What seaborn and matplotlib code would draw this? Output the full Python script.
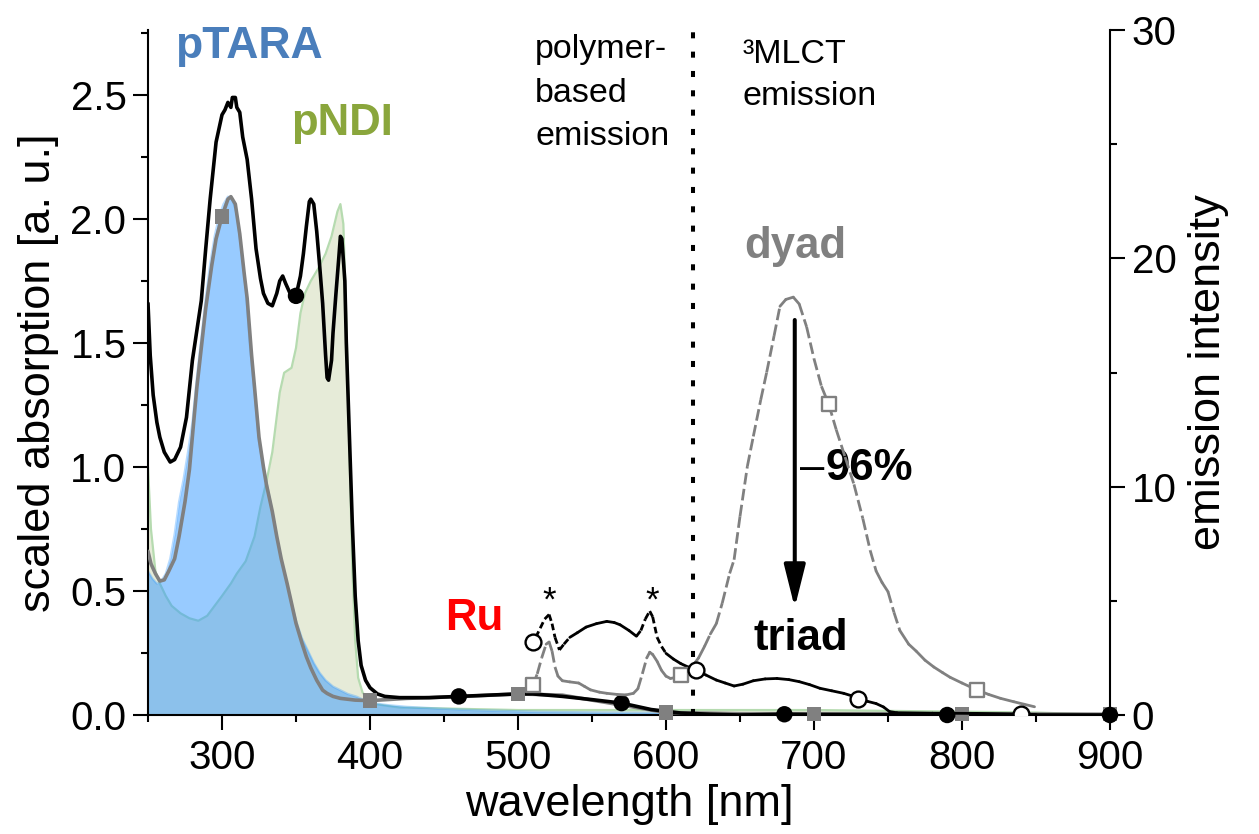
import numpy as np
import matplotlib
matplotlib.use("Agg")
import matplotlib.pyplot as plt
from matplotlib.collections import LineCollection
from matplotlib.ticker import MultipleLocator
import seaborn as sns

# ---------------- absorption spectra (left axis) ----------------
ptara_nm = [250, 253, 256, 259, 262, 265, 268, 271, 274, 277, 280, 283, 286, 289, 292, 295,
            298, 301, 304, 307, 310, 313, 316, 319, 322, 325, 328, 331, 334, 337, 340, 344,
            347, 350, 354, 358, 362, 366, 370, 375, 380, 385, 391, 396, 402, 412, 425, 450,
            470, 515, 560, 620, 700, 800, 900]
ptara_abs = [0.58, 0.55, 0.53, 0.54, 0.57, 0.63, 0.73, 0.86, 0.95, 1.06, 1.18, 1.36, 1.52, 1.68,
             1.82, 1.93, 2.01, 2.06, 2.09, 2.08, 2.02, 1.88, 1.72, 1.48, 1.30, 1.10, 1.00, 0.91,
             0.82, 0.72, 0.63, 0.53, 0.45, 0.38, 0.31, 0.26, 0.21, 0.17, 0.14, 0.115, 0.10,
             0.085, 0.074, 0.06, 0.048, 0.04, 0.033, 0.025, 0.02, 0.013, 0.01, 0.008, 0.006,
             0.004, 0.003]

pndi_nm = [250, 252, 255, 258, 262, 266, 272, 278, 284, 290, 295, 300, 306, 310, 316, 322,
           326, 330, 334, 339, 342, 347, 350, 353, 356, 360, 365, 370, 374, 378, 380, 382,
           384, 386, 388, 390, 392, 395, 398, 402, 420, 500, 700, 850, 900]
pndi_abs = [1.00, 0.75, 0.58, 0.53, 0.48, 0.44, 0.41, 0.39, 0.38, 0.40, 0.44, 0.48, 0.53, 0.57,
            0.62, 0.72, 0.84, 0.94, 1.06, 1.30, 1.38, 1.40, 1.48, 1.62, 1.70, 1.75, 1.80, 1.86,
            1.93, 2.03, 2.06, 1.98, 1.60, 1.10, 0.60, 0.30, 0.15, 0.09, 0.07, 0.045, 0.03,
            0.02, 0.02, 0.01, 0.0]

dyad_abs_nm = [250, 252, 255, 258, 261, 264, 268, 271, 275, 278, 281, 283, 286, 289, 293, 296,
               300, 304, 306, 309, 312, 315, 317, 320, 322, 325, 328, 330, 334, 337, 340, 344,
               347, 350, 354, 357, 360, 364, 368, 371, 375, 380, 390, 400, 425, 460, 500, 530,
               560, 580, 600, 650, 700, 800, 900]
dyad_abs = [0.66, 0.61, 0.57, 0.54, 0.545, 0.58, 0.63, 0.72, 0.86, 0.99, 1.19, 1.32, 1.48, 1.64,
            1.81, 1.92, 2.01, 2.08, 2.09, 2.06, 1.94, 1.78, 1.68, 1.45, 1.32, 1.12, 1.00, 0.93,
            0.82, 0.72, 0.63, 0.53, 0.45, 0.37, 0.29, 0.235, 0.19, 0.14, 0.10, 0.087, 0.075,
            0.067, 0.06, 0.058, 0.067, 0.074, 0.085, 0.08, 0.05, 0.03, 0.01, 0.005, 0.005,
            0.005, 0.003]

triad_abs_nm = [250, 251.5, 253.5, 256, 258, 261, 265, 268, 272, 276, 280, 283, 286, 289, 292,
                296, 300, 302, 304, 306, 307, 309, 310, 312, 314, 317, 320, 323, 326, 328, 331,
                334, 337, 339, 341, 343, 346, 348, 350, 353, 355, 357, 359, 360, 362, 364, 366,
                368, 370, 371, 372, 374, 375, 377, 379, 380, 381, 383, 384, 386, 388, 390, 392,
                394, 397, 400, 405, 410, 420, 440, 460, 480, 500, 510, 530, 550, 570, 590, 610,
                630, 650, 680, 700, 790, 900]
triad_abs = [1.66, 1.45, 1.29, 1.18, 1.12, 1.06, 1.02, 1.03, 1.08, 1.20, 1.43, 1.55, 1.67, 1.88,
             2.08, 2.31, 2.42, 2.44, 2.47, 2.45, 2.49, 2.49, 2.45, 2.43, 2.33, 2.24, 2.08, 1.88,
             1.76, 1.70, 1.66, 1.65, 1.70, 1.75, 1.77, 1.74, 1.70, 1.68, 1.69, 1.77, 1.86, 1.97,
             2.07, 2.08, 2.06, 1.95, 1.81, 1.66, 1.45, 1.36, 1.35, 1.43, 1.54, 1.70, 1.85, 1.93,
             1.92, 1.75, 1.50, 1.14, 0.78, 0.48, 0.30, 0.20, 0.14, 0.11, 0.085, 0.075, 0.07,
             0.07, 0.075, 0.08, 0.085, 0.085, 0.075, 0.062, 0.048, 0.022, 0.008, 0.003, 0.0,
             0.003, 0.002, 0.0, 0.0]

# ---------------- emission spectra (right axis) ----------------
dyad_em_nm = [510, 513, 516, 519, 521, 523, 525, 527, 530, 535, 541, 545, 549, 555, 560, 567,
              573, 578, 581, 584, 587, 589, 591, 594, 597, 600, 603, 607, 610, 614, 618, 622,
              626, 630, 634, 638, 643, 646, 650, 655, 659, 664, 668, 673, 677, 681, 686, 690,
              695, 700, 705, 710, 715, 721, 727, 733, 738, 742, 746, 750, 754, 758, 764, 769,
              775, 781, 787, 792, 800, 810, 818, 826, 835, 842, 849]
dyad_em = [1.3, 1.8, 2.5, 3.1, 3.2, 2.8, 2.1, 1.7, 1.5, 1.45, 1.4, 1.25, 1.1, 1.0, 0.95, 0.9,
           0.88, 0.95, 1.15, 1.8, 2.5, 2.75, 2.65, 2.35, 1.95, 1.7, 1.6, 1.65, 1.75, 1.9, 2.15,
           2.5, 3.0, 3.55, 4.0, 4.9, 6.2, 6.8, 8.7, 10.9, 12.2, 13.8, 15.0, 16.6, 17.9, 18.2,
           18.3, 18.0, 17.0, 15.6, 14.4, 13.6, 12.5, 11.3, 10.1, 8.6, 7.2, 6.3, 5.8, 5.4, 4.5,
           3.7, 3.1, 2.8, 2.4, 2.1, 1.85, 1.65, 1.4, 1.1, 0.9, 0.73, 0.58, 0.47, 0.36]

triad_em_nm = [510, 512, 515, 518, 521, 523, 525, 528, 531, 535, 540, 546, 553, 560, 565, 569,
               575, 580, 583, 586, 589, 591, 594, 597, 600, 605, 610, 615, 620, 627, 634, 640,
               646, 652, 659, 667, 675, 683, 690, 697, 704, 712, 720, 725, 730, 736, 742, 747,
               751, 756, 780, 810, 840, 850]
triad_em = [3.2, 3.4, 3.8, 4.2, 4.4, 4.0, 3.4, 2.85, 3.1, 3.4, 3.6, 3.85, 4.0, 4.1, 4.05, 3.95,
            3.7, 3.45, 3.7, 4.2, 4.55, 4.3, 3.4, 3.0, 2.7, 2.45, 2.25, 2.1, 1.97, 1.75, 1.53,
            1.4, 1.27, 1.35, 1.5, 1.58, 1.6, 1.55, 1.46, 1.33, 1.17, 1.06, 0.95, 0.85, 0.7, 0.6,
            0.5, 0.35, 0.15, 0.1, 0.08, 0.07, 0.04, 0.02]

# symbol positions along each curve
dyad_abs_marks = [300, 400, 500, 600, 700, 800, 900]
triad_abs_marks = [350, 460, 570, 680, 790, 900]
dyad_em_marks = [510, 610, 710, 810]
triad_em_marks = [510, 620, 730, 840]

# annotations
star_nm = [521, 591]
star_em = 5.0
boundary_nm = 618
arrow_nm = 687
arrow_from, arrow_to = 17.3, 4.7

# ---------------- styling ----------------
sns.set_theme(style="ticks")
plt.rcParams["font.family"] = ["Liberation Sans", "DejaVu Sans"]
for key in ("text.color", "axes.labelcolor", "xtick.color", "ytick.color", "axes.edgecolor"):
    plt.rcParams[key] = "black"

BLACK = "#000000"
GRAY = "#808080"
BLUE_TXT = "#4a7ebb"
GREEN_TXT = "#8aa63c"

fig = plt.figure(figsize=(12.59, 8.34), dpi=100)
ax = fig.add_axes([148 / 1259, 119 / 834, 962 / 1259, 685 / 834])
ax2 = ax.twinx()

# filled polymer spectra
ax.fill_between(pndi_nm, pndi_abs, 0, color="#e6ebd8", lw=0, zorder=1)
ax.plot(pndi_nm, pndi_abs, color="#b6dbb0", lw=1.6, zorder=1.5)
ax.fill_between(ptara_nm, ptara_abs, 0, color="#3399ff", alpha=0.5, lw=0, zorder=2)
ax.plot(ptara_nm, ptara_abs, color="#3399ff", alpha=0.35, lw=1.6, zorder=2.5)

# dyad / triad absorption
sns.lineplot(x=dyad_abs_nm, y=dyad_abs, ax=ax, color=GRAY, lw=2.6, sort=False,
             estimator=None, zorder=3)
sns.lineplot(x=triad_abs_nm, y=triad_abs, ax=ax, color=BLACK, lw=2.6, sort=False,
             estimator=None, zorder=4)

dmask = np.isin(dyad_abs_nm, dyad_abs_marks)
tmask = np.isin(triad_abs_nm, triad_abs_marks)
ax.scatter(np.array(dyad_abs_nm)[dmask], np.array(dyad_abs)[dmask], marker="s", s=105,
           color=GRAY, edgecolor="none", zorder=5, clip_on=False)
ax.scatter(np.array(triad_abs_nm)[tmask], np.array(triad_abs)[tmask], marker="o", s=140,
           color=BLACK, edgecolor="none", zorder=6, clip_on=False)


def spectrum_line(axis, xs, ys, color, lw, steep, dash):
    """Emission trace: steep stretches drawn dashed, flat stretches solid."""
    xs = np.asarray(xs, float)
    ys = np.asarray(ys, float)
    pts = np.column_stack([xs, ys])
    segs = np.stack([pts[:-1], pts[1:]], axis=1)
    slope = np.abs(np.diff(ys) / np.diff(xs))
    is_steep = slope > steep
    solid = LineCollection(segs[~is_steep], colors=color, linewidths=lw,
                           capstyle="round", zorder=3)
    dashed = LineCollection(segs[is_steep], colors=color, linewidths=lw,
                            linestyles=[(0, dash)], capstyle="butt", zorder=3)
    axis.add_collection(solid)
    axis.add_collection(dashed)


spectrum_line(ax2, dyad_em_nm, dyad_em, GRAY, 2.0, steep=0.13, dash=(4.2, 1.6))
spectrum_line(ax2, triad_em_nm, triad_em, BLACK, 2.0, steep=0.06, dash=(2.4, 1.3))

demask = np.isin(dyad_em_nm, dyad_em_marks)
temask = np.isin(triad_em_nm, triad_em_marks)
ax2.scatter(np.array(dyad_em_nm)[demask], np.array(dyad_em)[demask], marker="s", s=100,
            facecolor="white", edgecolor=GRAY, linewidth=1.7, zorder=5)
ax2.scatter(np.array(triad_em_nm)[temask], np.array(triad_em)[temask], marker="o", s=130,
            facecolor="white", edgecolor=BLACK, linewidth=1.7, zorder=5)

# separation of polymer-based and MLCT emission
ax2.axvline(boundary_nm, color=BLACK, lw=2.9, linestyle=(0, (1.5, 3.3)), zorder=4)

# quenching arrow
ax2.annotate("", xy=(arrow_nm, arrow_to), xytext=(arrow_nm, arrow_from),
             arrowprops=dict(arrowstyle="-|>,head_length=2.6,head_width=0.65",
                             mutation_scale=10, lw=2.9, color=BLACK,
                             shrinkA=0, shrinkB=0), zorder=6)

for sx in star_nm:
    ax2.text(sx, star_em, "*", fontsize=25, ha="center", va="center", color=BLACK)

# labels
ax.text(268, 2.648, "pTARA", color=BLUE_TXT, fontsize=32, fontweight="bold", va="baseline")
ax.text(347, 2.339, "pNDI", color=GREEN_TXT, fontsize=31.5, fontweight="bold", va="baseline")
ax.text(451, 0.343, "Ru", color="#ff0000", fontsize=31.5, fontweight="bold", va="baseline")
ax.text(653, 1.843, "dyad", color=GRAY, fontsize=31.5, fontweight="bold", va="baseline")
ax.text(659, 0.262, "triad", color=BLACK, fontsize=31.5, fontweight="bold", va="baseline")
ax.text(690.5, 0.948, "\u2013", color=BLACK, fontsize=31.5, va="baseline")
ax.text(707.5, 0.948, "96%", color=BLACK, fontsize=31.5, fontweight="bold", va="baseline")
ax.text(511.5, 2.745, "polymer-\nbased\nemission", fontsize=24.5, va="top",
        linespacing=1.52)
ax.text(652, 2.725, "\u00b3MLCT\nemission", fontsize=24.5, va="top", linespacing=1.45)

# axes
ax.set_xlim(250, 900)
ax.set_ylim(0, 2.762)
ax2.set_ylim(0, 30)
ax.xaxis.set_minor_locator(MultipleLocator(50))
ax.yaxis.set_minor_locator(MultipleLocator(0.25))
ax2.yaxis.set_major_locator(MultipleLocator(10))
ax2.yaxis.set_minor_locator(MultipleLocator(5))
ax.set_xticks([300, 400, 500, 600, 700, 800, 900])
ax.set_yticks([0.0, 0.5, 1.0, 1.5, 2.0, 2.5])
ax.set_yticklabels(["0.0", "0.5", "1.0", "1.5", "2.0", "2.5"])

for a in (ax, ax2):
    a.spines["top"].set_visible(False)
    a.tick_params(which="major", direction="out", length=10.5, width=1.5, labelsize=29,
                  pad=5, colors=BLACK)
    a.tick_params(which="minor", direction="out", length=5, width=1.5, colors=BLACK)
    for sp in a.spines.values():
        sp.set_linewidth(1.5)
        sp.set_color(BLACK)
ax.tick_params(axis="x", which="major", pad=7)
ax.spines["right"].set_visible(False)
ax2.spines["left"].set_visible(False)
ax2.spines["bottom"].set_visible(False)

ax.set_xlabel("wavelength [nm]", fontsize=32.5, labelpad=5)
ax.set_ylabel("scaled absorption [a. u.]", fontsize=32.5, labelpad=8)
ax2.set_ylabel("emission intensity", fontsize=32.5, labelpad=8)

fig.savefig("out.png", dpi=100)
